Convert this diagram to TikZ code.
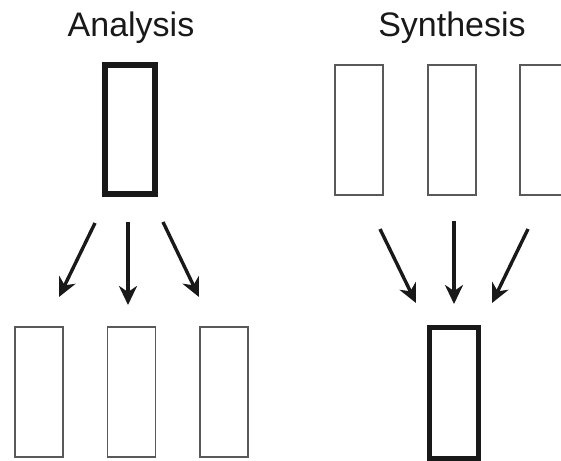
\documentclass[tikz,border=0pt]{standalone}
\usepackage{fontspec}
\setmainfont{Liberation Sans}
\usetikzlibrary{arrows.meta}
\begin{document}
\begin{tikzpicture}[x=1pt,y=-1pt,
  title/.style={font=\fontsize{34}{40}\selectfont, inner sep=0pt, anchor=base, text=black!90},
  thinbox/.style={draw=black!65, line width=1.2pt, minimum width=48pt, minimum height=130pt, inner sep=0pt, fill=white},
  thickbox/.style={draw=black!90, line width=5.8pt, minimum width=50pt, minimum height=129pt, inner sep=0pt, fill=white},
  arr/.style={draw=black!90, line width=3.4pt, -{Stealth[length=19pt,width=18pt,inset=6pt]}}]
\useasboundingbox (0,0) rectangle (561,460);
\fill[white] (0,0) rectangle (561,460);
% titles
\node[title] (tA) at (131,37) {Analysis};
\node[title] (tS) at (452,37) {Synthesis};
% analysis
\node[thickbox] (aTop) at (130,129.5) {};
\node[thinbox] (aB1) at (39,392) {};
\node[thinbox] (aB2) at (131.3,392) {};
\node[thinbox] (aB3) at (224,392) {};
\coordinate (a1s) at (95,223);
\coordinate (a1e) at (59,297);
\coordinate (a2s) at (128,222);
\coordinate (a2e) at (128,305);
\coordinate (a3s) at (163,222);
\coordinate (a3e) at (199,297);
\draw[arr] (a1s) -- (a1e);
\draw[arr] (a2s) -- (a2e);
\draw[arr] (a3s) -- (a3e);
% synthesis
\node[thinbox] (sT1) at (359,130) {};
\node[thinbox] (sT2) at (452,130) {};
\node[thinbox] (sT3) at (544,130) {};
\node[thickbox, minimum width=49pt, minimum height=131pt] (sBot) at (454,393) {};
\coordinate (s1s) at (380,229);
\coordinate (s1e) at (416,303);
\coordinate (s2s) at (454,221);
\coordinate (s2e) at (454,304);
\coordinate (s3s) at (528,229);
\coordinate (s3e) at (492,303);
\draw[arr] (s1s) -- (s1e);
\draw[arr] (s2s) -- (s2e);
\draw[arr] (s3s) -- (s3e);
\end{tikzpicture}
\end{document}
